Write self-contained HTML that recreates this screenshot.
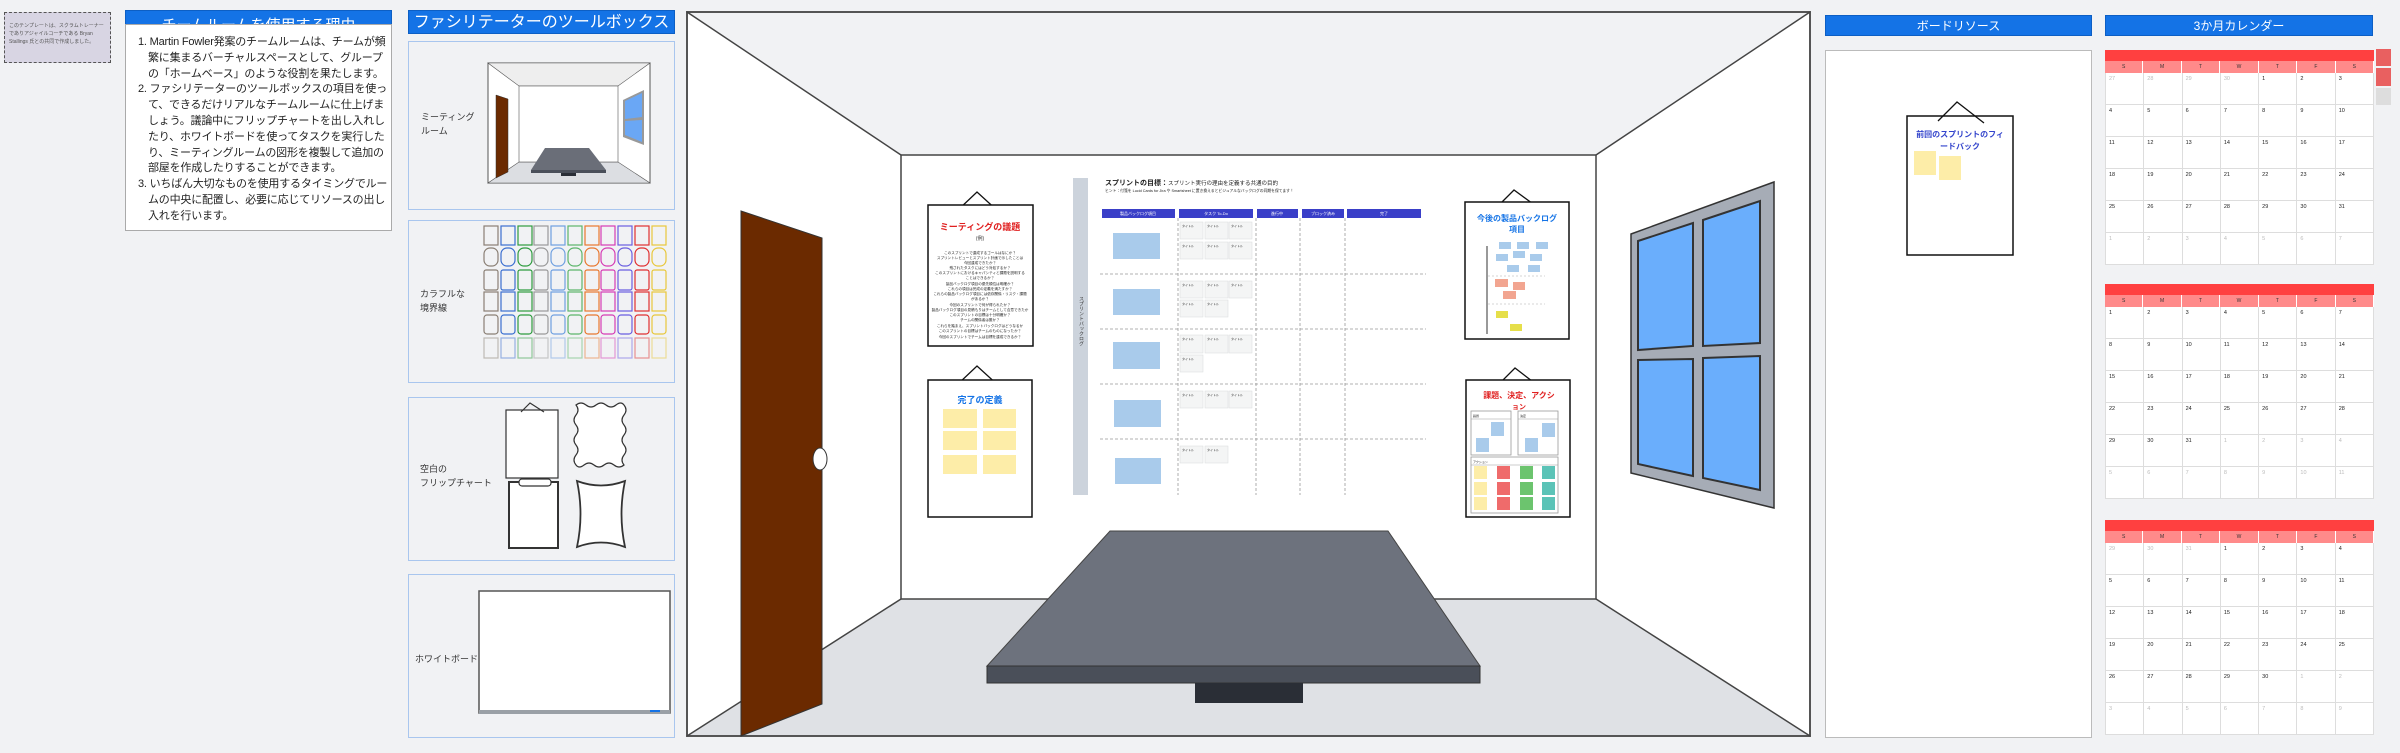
<!DOCTYPE html>
<html><head><meta charset="utf-8">
<style>
*{margin:0;padding:0;box-sizing:border-box}
body{width:2400px;height:753px;background:#f1f2f4;position:relative;overflow:hidden;font-family:"Liberation Sans","Noto Sans CJK JP",sans-serif}
.abs{position:absolute}
.hdr{position:absolute;background:#1473e6;color:#fff;text-align:center;border:1px solid #0d5fc4}
.panel{position:absolute;border:1px solid #a9c6ee;background:#f1f2f4}
.lbl{position:absolute;font-size:9px;color:#333;line-height:14px;white-space:nowrap}
.cal{position:absolute;left:2105px;width:269px}
.cal .bar{height:11px;background:#ff4040}
.cal .dh{display:grid;grid-template-columns:repeat(7,1fr);height:12px;background:#ff8a8a;font-size:5px;color:#333;text-align:center;line-height:12px}
.cal .dh div{border-right:1px solid #fff}
.cal .g{display:grid;grid-template-columns:repeat(7,1fr);background:#fff;border-left:1px solid #ddd}
.cal .g div{height:32px;border-right:1px solid #ddd;border-bottom:1px solid #ddd;font-size:5.5px;padding:3px 0 0 3px;color:#222}
.cal .g div.x{color:#bbb}
.rt div{white-space:nowrap}
</style></head><body>

<div class="abs" style="left:4px;top:12px;width:107px;height:51px;background:#d8d5e3;border:1px dashed #555;font-size:5px;color:#555;padding:9px 4px;line-height:8px">このテンプレートは、スクラムトレーナーでありアジャイルコーチである Bryan Stallings 氏との共同で作成しました。</div>

<div class="hdr" style="left:125px;top:10px;width:267px;height:24px;font-size:15px;line-height:30px;overflow:hidden">チームルームを使用する理由</div>
<div class="abs rt" style="left:125px;top:24px;width:267px;height:207px;background:#fff;border:1px solid #aaa;font-size:11px;letter-spacing:-0.2px;line-height:15.8px;color:#222;padding:10px 4px 0 12px">
<div>1. Martin Fowler発案のチームルームは、チームが頻</div>
<div style="padding-left:10px">繁に集まるバーチャルスペースとして、グループ</div>
<div style="padding-left:10px">の「ホームベース」のような役割を果たします。</div>
<div>2. ファシリテーターのツールボックスの項目を使っ</div>
<div style="padding-left:10px">て、できるだけリアルなチームルームに仕上げま</div>
<div style="padding-left:10px">しょう。議論中にフリップチャートを出し入れし</div>
<div style="padding-left:10px">たり、ホワイトボードを使ってタスクを実行した</div>
<div style="padding-left:10px">り、ミーティングルームの図形を複製して追加の</div>
<div style="padding-left:10px">部屋を作成したりすることができます。</div>
<div>3. いちばん大切なものを使用するタイミングでルー</div>
<div style="padding-left:10px">ムの中央に配置し、必要に応じてリソースの出し</div>
<div style="padding-left:10px">入れを行います。</div>
</div>

<div class="hdr" style="left:408px;top:10px;width:267px;height:24px;font-size:16px;line-height:24px">ファシリテーターのツールボックス</div>
<div class="panel" style="left:408px;top:41px;width:267px;height:169px"></div>
<div class="panel" style="left:408px;top:220px;width:267px;height:163px"></div>
<div class="panel" style="left:408px;top:397px;width:267px;height:164px"></div>
<div class="panel" style="left:408px;top:574px;width:267px;height:164px"></div>
<div class="lbl" style="left:421px;top:110px">ミーティング<br>ルーム</div>
<div class="lbl" style="left:420px;top:287px">カラフルな<br>境界線</div>
<div class="lbl" style="left:420px;top:462px">空白の<br>フリップチャート</div>
<div class="lbl" style="left:415px;top:652px">ホワイトボード</div>

<div class="hdr" style="left:1825px;top:15px;width:267px;height:21px;font-size:12px;line-height:21px">ボードリソース</div>
<div class="abs" style="left:1825px;top:50px;width:267px;height:688px;background:#fff;border:1px solid #bbb"></div>
<div class="hdr" style="left:2105px;top:15px;width:268px;height:21px;font-size:12px;line-height:21px">3か月カレンダー</div>

<svg class="abs" style="left:0;top:0" width="2400" height="753" font-family="Liberation Sans, Noto Sans CJK JP, sans-serif">
<g>
<rect x="488" y="63" width="162" height="120" fill="#fff" stroke="#555"/>
<polygon points="488,63 650,63 618,86 519,86" fill="#eee" stroke="#555" stroke-width=".6"/>
<polygon points="519,162 618,162 650,183 488,183" fill="#dcdee2" stroke="#555" stroke-width=".6"/>
<rect x="519" y="86" width="99" height="76" fill="#fff" stroke="#555" stroke-width=".6"/>
<polygon points="496,95 508,99 508,172 496,178" fill="#6b2a00" stroke="#333" stroke-width=".5"/>
<polygon points="623,100 644,90 644,145 623,137" fill="#999"/>
<polygon points="625,101 642,93 642,117 625,119" fill="#6aa7f5"/>
<polygon points="625,121 642,120 642,142 625,135" fill="#6aa7f5"/>
<polygon points="545,148 589,148 606,170 531,170" fill="#6a6e78"/>
<rect x="531" y="170" width="75" height="3" fill="#4a4f59"/>
<rect x="561" y="173" width="15" height="3" fill="#2a2e36"/>
</g>
<g fill="none" stroke-width="1.2">
<g stroke="#8a7f74"><rect x="484" y="226" width="14" height="19"/><rect x="484" y="248" width="14" height="18" rx="6"/><rect x="484" y="270" width="14" height="20" rx="2"/><rect x="484" y="292" width="14" height="19"/><rect x="484" y="315" width="14" height="19" rx="3"/><rect x="484" y="338" width="14" height="20" opacity=".5"/></g>
<g stroke="#3b6fd0"><rect x="501" y="226" width="14" height="19"/><rect x="501" y="248" width="14" height="18" rx="6"/><rect x="501" y="270" width="14" height="20" rx="2"/><rect x="501" y="292" width="14" height="19"/><rect x="501" y="315" width="14" height="19" rx="3"/><rect x="501" y="338" width="14" height="20" opacity=".5"/></g>
<g stroke="#2e9b3e"><rect x="518" y="226" width="14" height="19"/><rect x="518" y="248" width="14" height="18" rx="6"/><rect x="518" y="270" width="14" height="20" rx="2"/><rect x="518" y="292" width="14" height="19"/><rect x="518" y="315" width="14" height="19" rx="3"/><rect x="518" y="338" width="14" height="20" opacity=".5"/></g>
<g stroke="#999"><rect x="534" y="226" width="14" height="19"/><rect x="534" y="248" width="14" height="18" rx="6"/><rect x="534" y="270" width="14" height="20" rx="2"/><rect x="534" y="292" width="14" height="19"/><rect x="534" y="315" width="14" height="19" rx="3"/><rect x="534" y="338" width="14" height="20" opacity=".5"/></g>
<g stroke="#6fa0e0"><rect x="551" y="226" width="14" height="19"/><rect x="551" y="248" width="14" height="18" rx="6"/><rect x="551" y="270" width="14" height="20" rx="2"/><rect x="551" y="292" width="14" height="19"/><rect x="551" y="315" width="14" height="19" rx="3"/><rect x="551" y="338" width="14" height="20" opacity=".5"/></g>
<g stroke="#5cb56a"><rect x="568" y="226" width="14" height="19"/><rect x="568" y="248" width="14" height="18" rx="6"/><rect x="568" y="270" width="14" height="20" rx="2"/><rect x="568" y="292" width="14" height="19"/><rect x="568" y="315" width="14" height="19" rx="3"/><rect x="568" y="338" width="14" height="20" opacity=".5"/></g>
<g stroke="#e8772e"><rect x="585" y="226" width="14" height="19"/><rect x="585" y="248" width="14" height="18" rx="6"/><rect x="585" y="270" width="14" height="20" rx="2"/><rect x="585" y="292" width="14" height="19"/><rect x="585" y="315" width="14" height="19" rx="3"/><rect x="585" y="338" width="14" height="20" opacity=".5"/></g>
<g stroke="#d63bb5"><rect x="601" y="226" width="14" height="19"/><rect x="601" y="248" width="14" height="18" rx="6"/><rect x="601" y="270" width="14" height="20" rx="2"/><rect x="601" y="292" width="14" height="19"/><rect x="601" y="315" width="14" height="19" rx="3"/><rect x="601" y="338" width="14" height="20" opacity=".5"/></g>
<g stroke="#6a5ee0"><rect x="618" y="226" width="14" height="19"/><rect x="618" y="248" width="14" height="18" rx="6"/><rect x="618" y="270" width="14" height="20" rx="2"/><rect x="618" y="292" width="14" height="19"/><rect x="618" y="315" width="14" height="19" rx="3"/><rect x="618" y="338" width="14" height="20" opacity=".5"/></g>
<g stroke="#e03030"><rect x="635" y="226" width="14" height="19"/><rect x="635" y="248" width="14" height="18" rx="6"/><rect x="635" y="270" width="14" height="20" rx="2"/><rect x="635" y="292" width="14" height="19"/><rect x="635" y="315" width="14" height="19" rx="3"/><rect x="635" y="338" width="14" height="20" opacity=".5"/></g>
<g stroke="#e8c73a"><rect x="652" y="226" width="14" height="19"/><rect x="652" y="248" width="14" height="18" rx="6"/><rect x="652" y="270" width="14" height="20" rx="2"/><rect x="652" y="292" width="14" height="19"/><rect x="652" y="315" width="14" height="19" rx="3"/><rect x="652" y="338" width="14" height="20" opacity=".5"/></g>
</g>
<g fill="#fff" stroke="#333" stroke-width="1.2">
<rect x="506" y="410" width="52" height="68"/>
<polyline points="521,412 530,403 544,412" fill="none"/>
<path d="M576,405 q5,-4 10,0 t10,0 t10,0 t10,0 t8,0 q4,5 0,10 t0,10 t0,10 t0,10 t0,10 t0,10 q-5,4 -10,0 t-10,0 t-10,0 t-10,0 t-8,0 q-4,-5 0,-10 t0,-10 t0,-10 t0,-10 t0,-10 t0,-10z"/>
<rect x="509" y="482" width="49" height="66" stroke-width="2"/>
<rect x="519" y="479" width="32" height="7" rx="3"/>
<path d="M577,481 Q601,490 625,481 Q618,514 625,547 Q601,538 577,547 Q584,514 577,481Z" stroke-width="1.8"/>
</g>
<rect x="479" y="591" width="191" height="122" fill="#fff" stroke="#555" stroke-width="1.5"/>
<rect x="479" y="710" width="191" height="4" fill="#9aa0a6"/>
<rect x="650" y="710" width="10" height="2" fill="#1473e6"/>

<rect x="687" y="12" width="1123" height="724" fill="#fff" stroke="#555" stroke-width="2"/>
<polygon points="688,13 1809,13 1596,155 901,155" fill="#f1f2f4"/>
<polygon points="901,599 1596,599 1809,735 688,735" fill="#dfe1e5"/>
<rect x="901" y="155" width="695" height="444" fill="#fff" stroke="#444" stroke-width="1.5"/>
<g stroke="#444" stroke-width="1.5"><line x1="687" y1="12" x2="901" y2="155"/><line x1="1810" y1="12" x2="1596" y2="155"/><line x1="687" y1="736" x2="901" y2="599"/><line x1="1810" y1="736" x2="1596" y2="599"/></g>
<polygon points="741,211 822,238 822,704 741,736" fill="#6b2a00" stroke="#333" stroke-width="1"/>
<ellipse cx="820" cy="459" rx="7" ry="11" fill="#fff" stroke="#333"/>
<polygon points="1631,234 1774,182 1774,508 1631,473" fill="#a6acb6" stroke="#333" stroke-width="1.5"/>
<g fill="#6aaefc" stroke="#333" stroke-width="2">
<polygon points="1638,241 1693,223 1693,346 1638,350"/>
<polygon points="1703,220 1760,201 1760,343 1703,346"/>
<polygon points="1638,360 1693,359 1693,476 1638,464"/>
<polygon points="1703,358 1760,356 1760,490 1703,478"/>
</g>
<polygon points="1110,531 1388,531 1480,666 987,666" fill="#6d727d" stroke="#444"/>
<rect x="987" y="666" width="493" height="17" fill="#4a4f59" stroke="#333"/>
<rect x="1195" y="683" width="108" height="20" fill="#2a2e36"/>

<g stroke="#111" stroke-width="1.3" fill="none"><polyline points="958,210 977,192 1000,213"/></g>
<rect x="928" y="205" width="105" height="141" fill="#fff" stroke="#111" stroke-width="1.5"/>
<text x="980" y="230" font-size="9" font-weight="bold" fill="#e02020" text-anchor="middle">ミーティングの議題</text>
<text x="980" y="240" font-size="5" fill="#333" text-anchor="middle">(例)</text>
<g font-size="3.6" fill="#222" text-anchor="middle">
<text x="980" y="254">このスプリントで達成するゴールはなにか？</text>
<text x="980" y="259">スプリントレビューとスプリント計画で示したことは</text>
<text x="980" y="264">今回達成できたか？</text>
<text x="980" y="269">残されたタスクにはどう対処するか？</text>
<text x="980" y="274">このスプリントにおけるキャパシティと課題を説明する</text>
<text x="980" y="279">ことはできるか？</text>
<text x="980" y="285">製品バックログ項目の優先順位は明確か？</text>
<text x="980" y="290">これらの項目は完成の定義を満たすか？</text>
<text x="980" y="295">これらの製品バックログ項目には依存関係・リスク・課題</text>
<text x="980" y="300">があるか？</text>
<text x="980" y="306">今回のスプリントで何が得られたか？</text>
<text x="980" y="311">製品バックログ項目の見積もりはチームとして合意できたか</text>
<text x="980" y="316">このスプリントの目標は十分明確か？</text>
<text x="980" y="321">チームの関係者は誰か？</text>
<text x="980" y="327">これらを踏まえ、スプリントバックログはどうなるか</text>
<text x="980" y="332">このスプリントの目標はチームのものになったか？</text>
<text x="980" y="338">今回のスプリントでチームは目標を達成できるか？</text>
</g>
<g stroke="#111" stroke-width="1.3" fill="none"><polyline points="958,384 977,366 1000,387"/></g>
<rect x="928" y="380" width="104" height="137" fill="#fff" stroke="#111" stroke-width="1.5"/>
<text x="980" y="403" font-size="9" font-weight="bold" fill="#1473e6" text-anchor="middle">完了の定義</text>
<g fill="#fdeda8"><rect x="943" y="409" width="34" height="19"/><rect x="983" y="409" width="33" height="19"/><rect x="943" y="431" width="34" height="19"/><rect x="983" y="431" width="33" height="19"/><rect x="943" y="455" width="34" height="19"/><rect x="983" y="455" width="33" height="19"/></g>

<rect x="1073" y="178" width="15" height="317" fill="#ccd3dc"/>
<text x="1081" y="296" font-size="5" fill="#333" writing-mode="tb">スプリントバックログ</text>
<text x="1105" y="185" font-size="7" font-weight="bold" fill="#222">スプリントの目標：<tspan font-weight="normal" font-size="5.5">スプリント実行の理由を定義する共通の目的</tspan></text>
<text x="1105" y="192" font-size="3.8" fill="#222">ヒント：付箋を Lucid Cards for Jira や Smartsheet に置き換えるとビジュアルなバックログの同期を保てます！</text>
<g fill="#3a3fc8"><rect x="1102" y="209" width="73" height="9"/><rect x="1179" y="209" width="74" height="9"/><rect x="1257" y="209" width="41" height="9"/><rect x="1302" y="209" width="42" height="9"/><rect x="1347" y="209" width="74" height="9"/></g>
<g font-size="4" fill="#fff" text-anchor="middle"><text x="1138" y="215">製品バックログ項目</text><text x="1216" y="215">タスク To-Do</text><text x="1277" y="215">進行中</text><text x="1323" y="215">ブロック済み</text><text x="1384" y="215">完了</text></g>
<g stroke="#999" stroke-dasharray="3,2" stroke-width=".8">
<line x1="1100" y1="274" x2="1426" y2="274"/><line x1="1100" y1="329" x2="1426" y2="329"/><line x1="1100" y1="384" x2="1426" y2="384"/><line x1="1100" y1="439" x2="1426" y2="439"/>
<line x1="1178" y1="218" x2="1178" y2="495"/><line x1="1256" y1="218" x2="1256" y2="495"/><line x1="1300" y1="218" x2="1300" y2="495"/><line x1="1345" y1="218" x2="1345" y2="495"/>
</g>
<g fill="#a9cbeb"><rect x="1113" y="233" width="47" height="26"/><rect x="1113" y="289" width="47" height="26"/><rect x="1113" y="342" width="47" height="27"/><rect x="1114" y="400" width="47" height="27"/><rect x="1115" y="458" width="46" height="26"/></g>
<g fill="#f4f5f5" stroke="#d8dadc" stroke-width=".5">
<rect x="1180" y="222" width="23" height="17"/><rect x="1205" y="222" width="23" height="17"/><rect x="1229" y="222" width="23" height="17"/>
<rect x="1180" y="242" width="23" height="17"/><rect x="1205" y="242" width="23" height="17"/><rect x="1229" y="242" width="23" height="17"/>
<rect x="1180" y="281" width="23" height="17"/><rect x="1205" y="281" width="23" height="17"/><rect x="1229" y="281" width="23" height="17"/>
<rect x="1180" y="300" width="23" height="17"/><rect x="1205" y="300" width="23" height="17"/>
<rect x="1180" y="335" width="23" height="18"/><rect x="1205" y="335" width="23" height="18"/><rect x="1229" y="335" width="23" height="18"/>
<rect x="1180" y="355" width="23" height="17"/>
<rect x="1180" y="391" width="23" height="17"/><rect x="1205" y="391" width="23" height="17"/><rect x="1229" y="391" width="23" height="17"/>
<rect x="1180" y="446" width="23" height="17"/><rect x="1205" y="446" width="23" height="17"/>
</g>
<g font-size="3" fill="#333">
<text x="1182" y="227">タイトル</text><text x="1207" y="227">タイトル</text><text x="1231" y="227">タイトル</text>
<text x="1182" y="247">タイトル</text><text x="1207" y="247">タイトル</text><text x="1231" y="247">タイトル</text>
<text x="1182" y="286">タイトル</text><text x="1207" y="286">タイトル</text><text x="1231" y="286">タイトル</text>
<text x="1182" y="305">タイトル</text><text x="1207" y="305">タイトル</text>
<text x="1182" y="340">タイトル</text><text x="1207" y="340">タイトル</text><text x="1231" y="340">タイトル</text>
<text x="1182" y="360">タイトル</text>
<text x="1182" y="396">タイトル</text><text x="1207" y="396">タイトル</text><text x="1231" y="396">タイトル</text>
<text x="1182" y="451">タイトル</text><text x="1207" y="451">タイトル</text>
</g>

<g stroke="#111" stroke-width="1.3" fill="none"><polyline points="1496,208 1514,190 1540,209"/></g>
<rect x="1465" y="202" width="104" height="137" fill="#fff" stroke="#111" stroke-width="1.5"/>
<text x="1517" y="221" font-size="8" font-weight="bold" fill="#1473e6" text-anchor="middle">今後の製品バックログ</text>
<text x="1517" y="232" font-size="8" font-weight="bold" fill="#1473e6" text-anchor="middle">項目</text>
<line x1="1487" y1="246" x2="1487" y2="334" stroke="#333" stroke-width="1"/>
<g stroke="#aaa" stroke-dasharray="2,2" stroke-width=".6"><line x1="1488" y1="276" x2="1545" y2="276"/><line x1="1488" y1="304" x2="1545" y2="304"/></g>
<g fill="#a9cbeb"><rect x="1499" y="242" width="12" height="7"/><rect x="1517" y="242" width="12" height="7"/><rect x="1536" y="242" width="12" height="7"/><rect x="1496" y="254" width="12" height="7"/><rect x="1513" y="251" width="12" height="7"/><rect x="1530" y="254" width="12" height="7"/><rect x="1507" y="265" width="12" height="7"/><rect x="1528" y="265" width="12" height="7"/></g>
<g fill="#f2a590"><rect x="1495" y="279" width="13" height="8"/><rect x="1513" y="282" width="12" height="8"/><rect x="1503" y="291" width="13" height="8"/></g>
<g fill="#e6df4a"><rect x="1496" y="311" width="12" height="7"/><rect x="1510" y="324" width="12" height="7"/></g>
<g stroke="#111" stroke-width="1.3" fill="none"><polyline points="1497,386 1515,368 1541,388"/></g>
<rect x="1466" y="380" width="104" height="137" fill="#fff" stroke="#111" stroke-width="1.5"/>
<text x="1519" y="398" font-size="8" font-weight="bold" fill="#e02020" text-anchor="middle">課題、決定、アクシ</text>
<text x="1519" y="409" font-size="7" font-weight="bold" fill="#e02020" text-anchor="middle">ョン</text>
<g fill="#fff" stroke="#999" stroke-width=".8"><rect x="1471" y="411" width="40" height="44"/><rect x="1518" y="411" width="40" height="44"/><rect x="1471" y="457" width="87" height="56"/></g>
<g stroke="#999" stroke-width=".6"><line x1="1471" y1="419" x2="1511" y2="419"/><line x1="1518" y1="419" x2="1558" y2="419"/><line x1="1471" y1="465" x2="1558" y2="465"/></g>
<g font-size="3" fill="#222"><text x="1473" y="417">議題</text><text x="1520" y="417">決定</text><text x="1473" y="463">アクション</text></g>
<g fill="#a9cbeb"><rect x="1491" y="422" width="13" height="14"/><rect x="1476" y="438" width="13" height="14"/><rect x="1542" y="423" width="13" height="14"/><rect x="1525" y="438" width="13" height="14"/></g>
<g fill="#fdeda8"><rect x="1474" y="466" width="13" height="13"/><rect x="1474" y="482" width="13" height="13"/><rect x="1474" y="497" width="13" height="13"/></g>
<g fill="#ef6b6b"><rect x="1497" y="466" width="13" height="13"/><rect x="1497" y="482" width="13" height="13"/><rect x="1497" y="497" width="13" height="13"/></g>
<g fill="#6cc46e"><rect x="1520" y="466" width="13" height="13"/><rect x="1520" y="482" width="13" height="13"/><rect x="1520" y="497" width="13" height="13"/></g>
<g fill="#5bc3b7"><rect x="1542" y="466" width="13" height="13"/><rect x="1542" y="482" width="13" height="13"/><rect x="1542" y="497" width="13" height="13"/></g>

<g stroke="#111" stroke-width="1.3" fill="none"><polyline points="1938,121 1957,102 1984,123"/></g>
<rect x="1907" y="116" width="106" height="139" fill="none" stroke="#111" stroke-width="1.5"/>
<text x="1960" y="137" font-size="8" font-weight="bold" fill="#3344cc" text-anchor="middle">前回のスプリントのフィ</text>
<text x="1960" y="149" font-size="8" font-weight="bold" fill="#3344cc" text-anchor="middle">ードバック</text>
<g fill="#fdeda8"><rect x="1914" y="151" width="22" height="24"/><rect x="1939" y="156" width="22" height="24"/></g>

<rect x="2376" y="49" width="15" height="17" fill="#e96060"/>
<rect x="2376" y="68" width="15" height="18" fill="#e96060"/>
<rect x="2376" y="88" width="15" height="17" fill="#ddd"/>
</svg>

<div class="cal" style="top:50px"><div class="bar"></div>
<div class="dh"><div>S</div><div>M</div><div>T</div><div>W</div><div>T</div><div>F</div><div>S</div></div>
<div class="g"><div class="x">27</div><div class="x">28</div><div class="x">29</div><div class="x">30</div><div>1</div><div>2</div><div>3</div>
<div>4</div><div>5</div><div>6</div><div>7</div><div>8</div><div>9</div><div>10</div>
<div>11</div><div>12</div><div>13</div><div>14</div><div>15</div><div>16</div><div>17</div>
<div>18</div><div>19</div><div>20</div><div>21</div><div>22</div><div>23</div><div>24</div>
<div>25</div><div>26</div><div>27</div><div>28</div><div>29</div><div>30</div><div>31</div>
<div class="x">1</div><div class="x">2</div><div class="x">3</div><div class="x">4</div><div class="x">5</div><div class="x">6</div><div class="x">7</div></div></div>

<div class="cal" style="top:284px"><div class="bar"></div>
<div class="dh"><div>S</div><div>M</div><div>T</div><div>W</div><div>T</div><div>F</div><div>S</div></div>
<div class="g"><div>1</div><div>2</div><div>3</div><div>4</div><div>5</div><div>6</div><div>7</div>
<div>8</div><div>9</div><div>10</div><div>11</div><div>12</div><div>13</div><div>14</div>
<div>15</div><div>16</div><div>17</div><div>18</div><div>19</div><div>20</div><div>21</div>
<div>22</div><div>23</div><div>24</div><div>25</div><div>26</div><div>27</div><div>28</div>
<div>29</div><div>30</div><div>31</div><div class="x">1</div><div class="x">2</div><div class="x">3</div><div class="x">4</div>
<div class="x">5</div><div class="x">6</div><div class="x">7</div><div class="x">8</div><div class="x">9</div><div class="x">10</div><div class="x">11</div></div></div>

<div class="cal" style="top:520px"><div class="bar"></div>
<div class="dh"><div>S</div><div>M</div><div>T</div><div>W</div><div>T</div><div>F</div><div>S</div></div>
<div class="g"><div class="x">29</div><div class="x">30</div><div class="x">31</div><div>1</div><div>2</div><div>3</div><div>4</div>
<div>5</div><div>6</div><div>7</div><div>8</div><div>9</div><div>10</div><div>11</div>
<div>12</div><div>13</div><div>14</div><div>15</div><div>16</div><div>17</div><div>18</div>
<div>19</div><div>20</div><div>21</div><div>22</div><div>23</div><div>24</div><div>25</div>
<div>26</div><div>27</div><div>28</div><div>29</div><div>30</div><div class="x">1</div><div class="x">2</div>
<div class="x">3</div><div class="x">4</div><div class="x">5</div><div class="x">6</div><div class="x">7</div><div class="x">8</div><div class="x">9</div></div></div>

</body></html>
